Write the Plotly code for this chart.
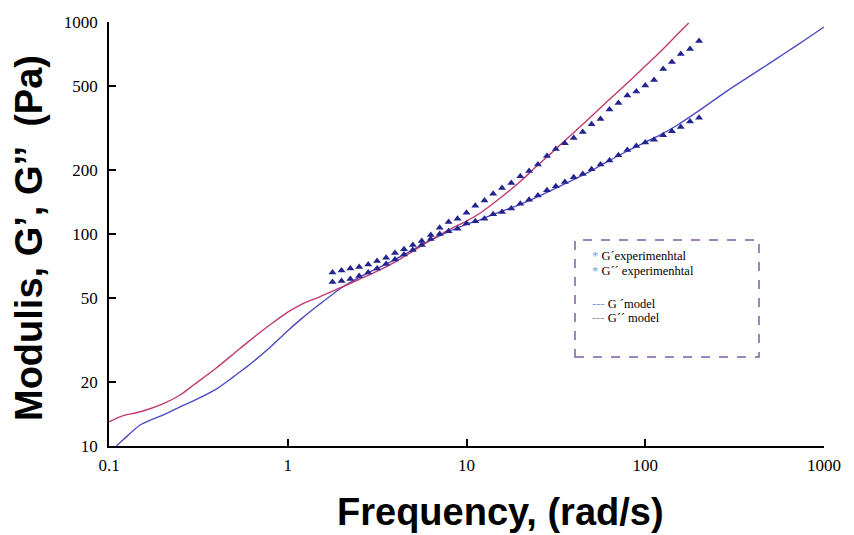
import plotly.graph_objects as go

# Experimental data (frequency in rad/s, moduli in Pa)
exp_freq = [1.78, 2.0, 2.24, 2.51, 2.82, 3.16, 3.55, 3.98, 4.47, 5.01, 5.62, 6.31, 7.08, 7.94,
            8.91, 10.0, 11.2, 12.6, 14.1, 15.8, 17.8, 20.0, 22.4, 25.1, 28.2, 31.6, 35.5, 39.8,
            44.7, 50.1, 56.2, 63.1, 70.8, 79.4, 89.1, 100, 112, 126, 141, 158, 178, 200]
gpp_exp = [65.8, 67.3, 68.8, 69.9, 71.8, 74.6, 77.3, 81.4, 84.7, 88.8, 92.7, 98.9, 107, 114,
           118, 126, 136, 144, 155, 165, 174, 187, 198, 213, 233, 252, 268, 284, 303, 329,
           349, 387, 415, 450, 470, 502, 533, 600, 648, 707, 746, 814]
gp_exp = [59.4, 60.0, 61.3, 63.4, 65.8, 68.8, 72.2, 75.8, 80.0, 84.1, 88.8, 94.7, 100, 103,
          106, 112, 115, 118, 124, 127, 132, 139, 145, 152, 161, 168, 176, 185, 192, 202,
          213, 222, 235, 249, 260, 270, 278, 292, 305, 320, 339, 353]

# Model curves
gpp_model_freq = [0.1, 0.11, 0.12, 0.15, 0.2, 0.25, 0.3, 0.4, 0.5, 0.6, 0.8, 1, 1.2, 1.5, 2,
                  2.5, 3, 4, 5, 6, 8, 10, 12, 15, 20, 25, 30, 40, 50, 60, 80, 100, 120, 150, 175]
gpp_model = [13.0, 13.5, 13.9, 14.5, 15.8, 17.4, 19.5, 23.4, 27.3, 31.0, 37.4, 42.8, 46.7, 50.4,
             56.1, 61.0, 65.3, 73.9, 82.8, 91.2, 105, 115, 126, 145, 177, 211, 242, 302, 359,
             415, 518, 620, 717, 868, 990]
gp_model_freq = [0.11, 0.12, 0.15, 0.2, 0.25, 0.3, 0.4, 0.5, 0.6, 0.8, 1, 1.2, 1.5, 2, 2.5, 3,
                 4, 5, 6, 8, 10, 12, 15, 20, 25, 30, 40, 50, 60, 80, 100, 120, 150, 200, 250,
                 300, 400, 500, 600, 800, 1000]
gp_model = [10.0, 10.7, 12.6, 14.0, 15.3, 16.4, 18.6, 21.3, 23.9, 29.3, 35.0, 40.0, 46.5, 55.8,
            62.3, 67.3, 76.0, 84.1, 91.5, 103, 111, 117, 126, 138, 150, 161, 181, 199, 217,
            247, 271, 292, 325, 382, 436, 485, 568, 641, 710, 834, 947]

x_ticks = [0.1, 1, 10, 100, 1000]
x_ticktext = ["0.1", "1", "10", "100", "1000"]
y_ticks = [10, 20, 50, 100, 200, 500, 1000]
y_ticktext = ["10", "20", "50", "100", "200", "500", "1000"]

fig = go.Figure()
fig.add_trace(go.Scatter(x=gp_model_freq, y=gp_model, mode="lines",
                         line=dict(color="#4b4bc4", width=1.4, shape="spline", smoothing=0.7),
                         cliponaxis=False))
fig.add_trace(go.Scatter(x=gpp_model_freq, y=gpp_model, mode="lines",
                         line=dict(color="#c03a6e", width=1.4, shape="spline", smoothing=0.7),
                         cliponaxis=False))
fig.add_trace(go.Scatter(x=exp_freq, y=gp_exp, mode="markers",
                         marker=dict(symbol="triangle-up", size=7, color="#24248f")))
fig.add_trace(go.Scatter(x=exp_freq, y=gpp_exp, mode="markers",
                         marker=dict(symbol="triangle-up", size=7, color="#24248f")))

FW, FH = 854, 535
L, T, R, B = 109, 22, 854 - 824, 535 - 446
W, H = FW - L - R, FH - T - B

def px(x):
    return (x - L) / W

def py(y):
    return (FH - B - y) / H

tick_font = dict(family="Liberation Serif", size=17, color="black")
fig.update_xaxes(type="log", range=[-1, 3], tickvals=x_ticks, ticktext=x_ticktext,
                 showline=True, linecolor="black", linewidth=1.6, ticks="inside",
                 ticklen=7, tickwidth=1.5, tickcolor="black", showgrid=False,
                 zeroline=False, tickfont=tick_font, ticklabelstandoff=3)
fig.update_yaxes(type="log", range=[1, 3], tickvals=y_ticks, ticktext=y_ticktext,
                 showline=True, linecolor="black", linewidth=1.6, ticks="inside",
                 ticklen=7, tickwidth=1.5, tickcolor="black", showgrid=False,
                 zeroline=False, tickfont=tick_font, ticklabelstandoff=6)

legend_font = dict(family="Liberation Serif", size=12.5, color="black")
annotations = [
    dict(text='<span style="color:#6f9fdc">*</span> G´experimenhtal', x=px(590), y=py(256)),
    dict(text='<span style="color:#6f9fdc">*</span> G´´ experimenhtal', x=px(590), y=py(271)),
    dict(text='<span style="color:#6f9fdc">---</span> G ´model', x=px(590), y=py(304)),
    dict(text='<span style="color:#9a90b4">---</span> G´´ model', x=px(590), y=py(318)),
]
for a in annotations:
    a.update(xref="paper", yref="paper", xanchor="left", yanchor="middle",
             showarrow=False, font=legend_font)

annotations.append(dict(text="Frequency, (rad/s)", x=px(500), y=py(512), xref="paper",
                        yref="paper", xanchor="center", yanchor="middle", showarrow=False,
                        font=dict(family="Liberation Sans", size=38, color="black")))
annotations.append(dict(text="Modulis, G’, G’’ \u00a0(Pa)", x=px(29), y=py(238),
                        xref="paper", yref="paper", xanchor="center", yanchor="middle",
                        textangle=-90, showarrow=False,
                        font=dict(family="Liberation Sans", size=38, color="black")))

fig.update_layout(
    width=FW, height=FH, margin=dict(l=L, r=R, t=T, b=B),
    paper_bgcolor="white", plot_bgcolor="white", showlegend=False,
    annotations=annotations,
    shapes=[dict(type="rect", xref="paper", yref="paper", x0=px(575), x1=px(759),
                 y0=py(357), y1=py(240), line=dict(color="#7b5ea7", width=1.5, dash="dash"))],
)
for a in fig.layout.annotations[-2:]:
    a.font.weight = "bold"

fig.write_html("out.html", config={"displayModeBar": False},
               post_script="document.body.style.margin='0';"
                           "document.body.style.overflow='hidden';")
